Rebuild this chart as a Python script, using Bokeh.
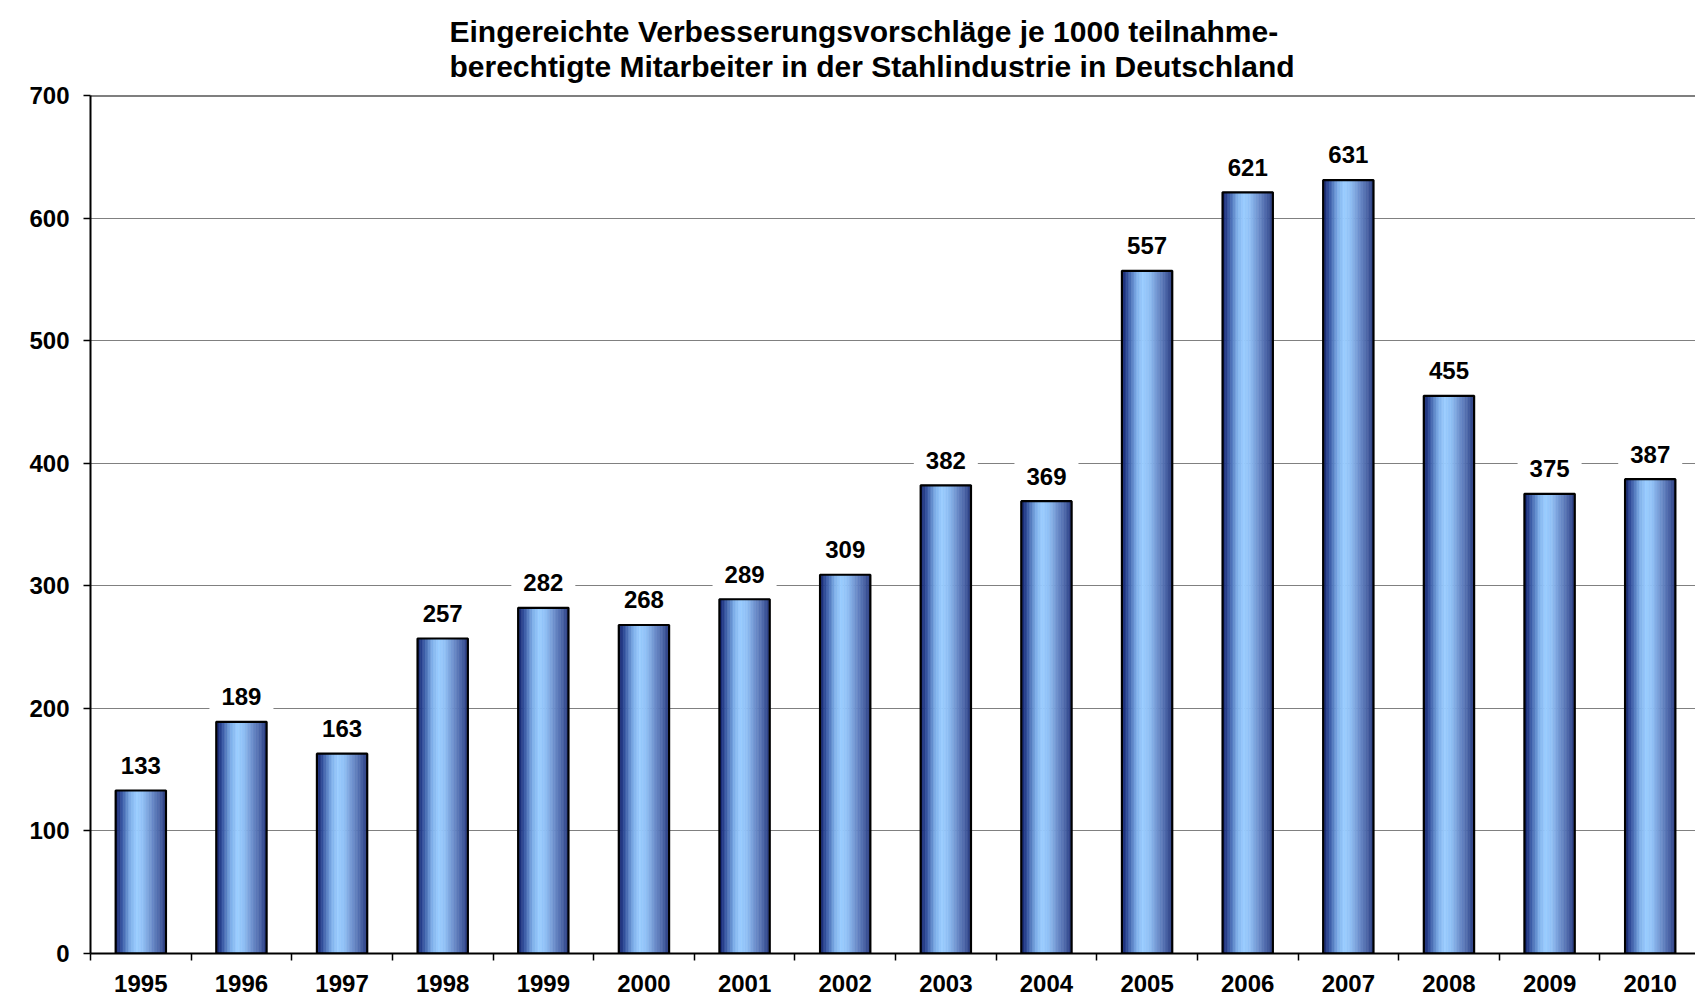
from bokeh.plotting import figure
from bokeh.models import Range1d, FixedTicker, Span, ColumnDataSource
from bokeh.core.properties import value
from bokeh.embed import file_html
from bokeh.resources import INLINE

years = ["1995", "1996", "1997", "1998", "1999", "2000", "2001", "2002",
         "2003", "2004", "2005", "2006", "2007", "2008", "2009", "2010"]
counts = [133, 189, 163, 257, 282, 268, 289, 309, 382, 369, 557, 621, 631, 455, 375, 387]
y_ticks = [0, 100, 200, 300, 400, 500, 600, 700]
title_lines = ["Eingereichte Verbesserungsvorschläge je 1000 teilnahme-",
               "berechtigte Mitarbeiter in der Stahlindustrie in Deutschland"]

FONT = "Liberation Sans"
xs = list(range(len(years)))

p = figure(width=1695, height=1000, output_backend="svg", toolbar_location=None,
           x_range=Range1d(-0.5, 15.45), y_range=Range1d(0, 700),
           min_border_left=90, min_border_right=0, min_border_top=95, min_border_bottom=47)
p.background_fill_color = "white"
p.border_fill_color = "white"
p.outline_line_color = None

p.title.text = "\n".join(title_lines)
p.title.align = "left"
p.title.offset = 359
p.title.standoff = 24
p.title.text_font = FONT
p.title.text_font_size = "30px"
p.title.text_font_style = "bold"
p.title.text_color = "black"
p.title.text_line_height = 1.07

# gradient bars built from strips
stops = [(0.0, (13, 26, 102)), (0.12, (51, 82, 158)), (0.3, (127, 176, 234)),
         (0.42, (153, 204, 255)), (0.55, (144, 192, 245)), (0.72, (109, 143, 204)),
         (0.88, (74, 100, 166)), (1.0, (38, 56, 126))]

def grad(t):
    for (t0, c0), (t1_, c1) in zip(stops[:-1], stops[1:]):
        if t0 <= t <= t1_:
            f = (t - t0) / (t1_ - t0)
            c = tuple(int(round(a + (b - a) * f)) for a, b in zip(c0, c1))
            return "#%02x%02x%02x" % c
    return "#%02x%02x%02x" % stops[-1][1]

bw = 0.5
N = 32
sw = bw / N
for k in range(N):
    off = -bw / 2 + (k + 0.5) * sw
    col = grad((k + 0.5) / N)
    p.vbar(x=[x + off for x in xs], top=counts, bottom=0, width=sw * 1.02,
           fill_color=col, line_color=col, line_width=0.6)

p.vbar(x=xs, top=counts, bottom=0, width=bw, fill_alpha=0,
       line_color="black", line_width=2.2)

# value labels with white boxes
src = ColumnDataSource(dict(x=xs, y=[c + 20.5 for c in counts], t=[str(c) for c in counts]))
p.rect(x="x", y="y", width=64, height=28, width_units="screen", height_units="screen",
       source=src, fill_color="white", line_color=None)
p.text(x="x", y="y", text="t", source=src, text_align="center", text_baseline="middle",
       text_font=value(FONT), text_font_size="24px", text_font_style="bold", text_color="black")

p.add_layout(Span(location=700, dimension="width", line_color="black", line_width=2))

# axes
p.yaxis.ticker = FixedTicker(ticks=y_ticks)
p.yaxis.axis_line_color = "black"
p.yaxis.axis_line_width = 2
p.yaxis.major_tick_line_color = "black"
p.yaxis.major_tick_line_width = 1.5
p.yaxis.major_tick_out = 7
p.yaxis.major_tick_in = 0
p.yaxis.minor_tick_line_color = None
p.yaxis.major_label_standoff = 14
p.yaxis.major_label_text_font = FONT
p.yaxis.major_label_text_font_size = "24px"
p.yaxis.major_label_text_font_style = "bold"
p.yaxis.major_label_text_color = "black"

p.xaxis.ticker = FixedTicker(ticks=xs, minor_ticks=[x - 0.5 for x in xs] + [len(xs) - 0.5])
p.xaxis.major_label_overrides = {x: y for x, y in zip(xs, years)}
p.xaxis.axis_line_color = "black"
p.xaxis.axis_line_width = 2
p.xaxis.major_tick_line_color = None
p.xaxis.major_tick_out = 0
p.xaxis.major_tick_in = 0
p.xaxis.minor_tick_line_color = "black"
p.xaxis.minor_tick_line_width = 1.5
p.xaxis.minor_tick_out = 7
p.xaxis.minor_tick_in = 0
p.xaxis.major_label_standoff = 14
p.xaxis.major_label_text_font = FONT
p.xaxis.major_label_text_font_size = "24px"
p.xaxis.major_label_text_font_style = "bold"
p.xaxis.major_label_text_color = "black"

p.xgrid.grid_line_color = None
p.ygrid.ticker = FixedTicker(ticks=y_ticks[1:-1])
p.ygrid.grid_line_color = "#808080"
p.ygrid.grid_line_width = 1

open("out.html", "w").write(file_html(p, INLINE))
